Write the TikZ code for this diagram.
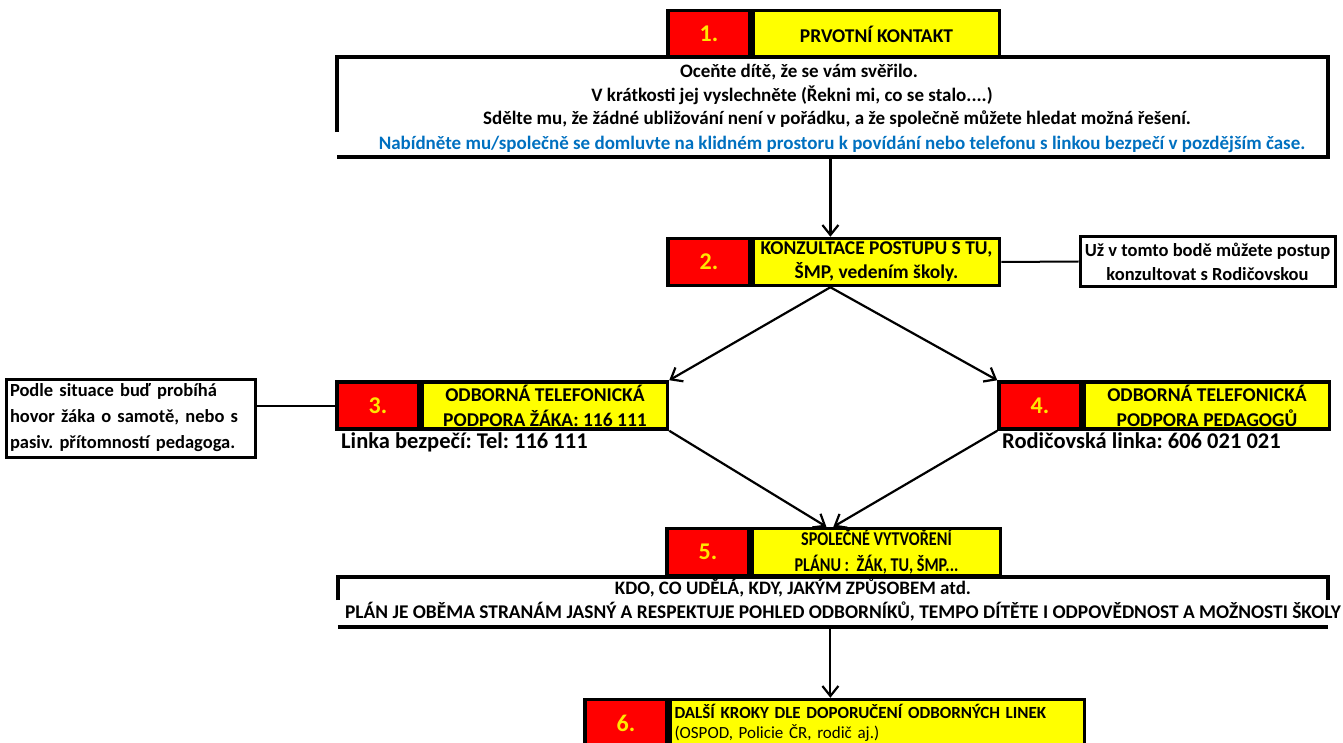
\documentclass[tikz,border=0pt]{standalone}
\usepackage{fontspec}
\setmainfont{Carlito}
\newfontfamily\condfont[FakeStretch=0.83]{Carlito}
\usetikzlibrary{arrows.meta, positioning}
\definecolor{numyellow}{RGB}{255,230,0}
\definecolor{boxred}{RGB}{255,0,0}
\definecolor{boxyellow}{RGB}{255,255,0}
\definecolor{linkblue}{RGB}{0,112,192}
\frenchspacing
\tikzset{
  numbox/.style={draw, line width=3.5pt, fill=boxred, text=numyellow, minimum width=82pt, minimum height=47pt, inner sep=0pt, font=\fontsize{24}{24}\selectfont\bfseries},
  titlebox/.style={draw, line width=3.5pt, fill=boxyellow, minimum height=47pt, inner sep=0pt, align=center, font=\fontsize{19.5}{24}\selectfont\bfseries},
  notebox/.style={draw, line width=3pt, fill=white, inner sep=0pt, font=\fontsize{18.5}{26}\selectfont\bfseries},
  txt/.style={inner sep=0pt, text height=13pt, text depth=4pt, font=\fontsize{19}{20}\selectfont\bfseries},
  linklabel/.style={inner sep=0pt, anchor=west, text height=16pt, text depth=5pt, font=\fontsize{22.5}{24}\selectfont\bfseries},
  frame/.style={line width=3.5pt},
  arr/.style={-{Straight Barb[length=10pt,width=16pt]}, line width=2.2pt},
  link/.style={line width=2pt}
}
\begin{document}
\begin{tikzpicture}[x=1pt,y=-1pt]
\useasboundingbox (0,0) rectangle (1343,743);
\clip (0,0) rectangle (1343,743);

% step 1 and what to say
\node[numbox] (n1) at (709,34) {1.};
\node[titlebox, minimum width=246pt, right=0pt of n1] (t1) {PRVOTNÍ KONTAKT};
\node[minimum width=991pt, minimum height=100pt, inner sep=0pt] (info1) at (832.5,107) {};
\draw[frame] ([yshift=25pt]info1.south west) -- (info1.north west) -- (info1.north east) -- (info1.south east) -- (info1.south west);
\node[txt] (l1) at (799,73) {Oceňte dítě, že se vám svěřilo.};
\node[txt] (l2) at (792,97) {V krátkosti jej vyslechněte (Řekni mi, co se stalo....)};
\node[txt] (l3) at (837,120) {Sdělte mu, že žádné ubližování není v pořádku, a že společně můžete hledat možná řešení.};
\node[txt, text=linkblue] (l4) at (842,145) {Nabídněte mu/společně se domluvte na klidném prostoru k povídání nebo telefonu s linkou bezpečí v pozdějším čase.};

% step 2
\node[numbox] (n2) at (709,262) {2.};
\node[titlebox, minimum width=246pt, right=0pt of n2] (t2) {KONZULTACE POSTUPU S TU,\\ŠMP, vedením školy.};
\node[notebox, minimum width=255pt, minimum height=49pt, align=center, font=\fontsize{18.5}{24}\selectfont\bfseries] (note2) at (1207.5,261.5) {Už v tomto bodě můžete postup\\konzultovat s Rodičovskou};
\path (n2.north west) -- (t2.north east) coordinate[pos=.49] (top2);
\path (n2.south west) -- (t2.south east) coordinate[pos=.49] (bot2);

% steps 3 and 4
\node[numbox] (n3) at (378,405.5) {3.};
\node[titlebox, minimum width=245pt, right=0pt of n3, font=\fontsize{19.5}{25}\selectfont\bfseries] (t3) {ODBORNÁ TELEFONICKÁ\\PODPORA ŽÁKA: 116 111};
\node[notebox, minimum width=249pt, minimum height=78pt, text width=241pt, align=left] (note3) at (130.5,418) {Podle situace buď probíhá\\hovor žáka o samotě, nebo s\\pasiv. přítomností pedagoga.};
\node[linklabel] (tel3) at (341,443) {Linka bezpečí: Tel: 116 111};

\node[numbox] (n4) at (1040,405.5) {4.};
\node[titlebox, minimum width=245pt, right=0pt of n4, font=\fontsize{19.5}{25}\selectfont\bfseries] (t4) {ODBORNÁ TELEFONICKÁ\\PODPORA PEDAGOGŮ};
\node[linklabel] (tel4) at (1002,443) {Rodičovská linka: 606 021 021};

% step 5 and the plan
\node[numbox] (n5) at (708,552) {5.};
\node[titlebox, minimum width=248pt, right=0pt of n5, font=\condfont\fontsize{19.5}{26}\selectfont\bfseries] (t5) {SPOLEČNÉ VYTVOŘENÍ\\PLÁNU :~ ŽÁK, TU, ŠMP...};
\path (n5.north west) -- (t5.north east) coordinate[pos=.49] (top5);
\node[minimum width=990pt, minimum height=50pt, inner sep=0pt] (info5) at (833,602) {};
\draw[frame] ([yshift=27pt]info5.south west) -- (info5.north west) -- (info5.north east) -- ([yshift=27pt]info5.south east);
\draw[frame] (info5.south west) -- (info5.south east);
\node[txt] (p1) at (793,590) {KDO, CO UDĚLÁ, KDY, JAKÝM ZPŮSOBEM atd.};
\node[txt, font=\fontsize{19.4}{20}\selectfont\bfseries] (p2) at (843,614) {PLÁN JE OBĚMA STRANÁM JASNÝ A RESPEKTUJE POHLED ODBORNÍKŮ, TEMPO DÍTĚTE I ODPOVĚDNOST A MOŽNOSTI ŠKOLY};

% step 6
\node[numbox] (n6) at (626,723) {6.};
\node[titlebox, minimum width=414pt, text width=406pt, align=left, right=0pt of n6, font=\fontsize{17}{20}\selectfont] (t6) {\textbf{DALŠÍ KROKY DLE DOPORUČENÍ ODBORNÝCH LINEK}\\(OSPOD, Policie ČR, rodič aj.)};

% connectors
\draw[arr] (info1.south -| top2) -- (top2);
\draw[link] (t2.east) -- (note2.west);
\draw[arr] (bot2) -- (t3.north east);
\draw[arr] (bot2) -- (n4.north west);
\draw[link] (n3.west) -- (n3.west -| note3.east);
\draw[arr] (t3.south east) -- ([xshift=-4pt]top5);
\draw[arr] (n4.south west) -- ([xshift=3pt]top5);
\draw[arr] (info5.south -| top5) -- (top5 |- n6.north);
\end{tikzpicture}
\end{document}
